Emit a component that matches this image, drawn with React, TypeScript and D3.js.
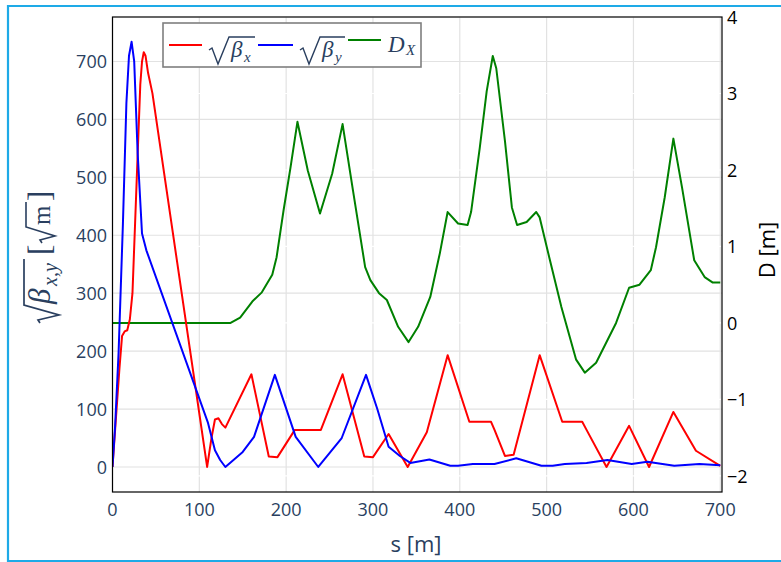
import React from "react";
import * as d3 from "d3";

// Beam optics along the lattice: sqrt(beta_x), sqrt(beta_y) on the left axis, D_x on the right.
const sBetaX = [0, 4, 8, 11, 14, 17, 20, 23, 26, 29, 32, 34, 36, 38, 41, 46, 109, 114, 118, 122, 126, 130, 160, 180, 190, 210, 240, 265, 290, 300, 318, 340, 362, 386, 411, 436, 440, 452, 462, 492, 518, 541, 546, 569, 595, 618, 646, 672, 700];
const betaX = [0, 85, 170, 226, 234, 236, 255, 300, 420, 541, 660, 700, 716, 710, 680, 645, 0, 50, 82, 84, 74, 68, 160, 18, 17, 64, 64, 160, 18, 17, 57, 0, 60, 193, 78, 78, 64, 19, 21, 193, 78, 78, 64, 0, 71, 0, 95, 28, 2];

const sBetaY = [0, 3, 7, 12, 16, 19, 22, 25, 29, 34, 39, 110, 118, 124, 130, 150, 163, 187, 211, 237, 264, 292, 305, 318, 331, 343, 365, 389, 398, 415, 440, 465, 494, 507, 521, 546, 570, 598, 616, 647, 676, 700];
const betaY = [0, 70, 197, 420, 628, 710, 734, 700, 541, 403, 374, 76, 29, 12, 0, 26, 52, 159, 52, 0, 50, 159, 100, 35, 19, 7, 13, 2, 2, 5, 5, 15, 2, 2, 5, 7, 12, 5, 9, 2, 5, 3];

const sDx = [0, 136, 147, 161, 172, 184, 189, 197, 205, 213, 225, 239, 253, 265, 277, 291, 297, 307, 316, 329, 341, 352, 366, 377, 386, 398, 409, 413, 423, 431, 438, 442, 452, 460, 466, 477, 488, 492, 503, 517, 534, 544, 557, 580, 595, 607, 620, 626, 636, 646, 656, 670, 682, 691, 700];
const dispX = [0, 0, 0.07, 0.28, 0.4, 0.63, 0.86, 1.47, 2.03, 2.63, 1.99, 1.43, 1.95, 2.6, 1.73, 0.73, 0.56, 0.39, 0.3, -0.05, -0.25, -0.05, 0.34, 0.91, 1.45, 1.3, 1.28, 1.45, 2.29, 3.03, 3.49, 3.33, 2.38, 1.51, 1.28, 1.32, 1.45, 1.38, 0.86, 0.21, -0.48, -0.65, -0.52, 0, 0.46, 0.5, 0.69, 0.99, 1.64, 2.41, 1.77, 0.82, 0.6, 0.53, 0.53];

const xTicks = [0, 100, 200, 300, 400, 500, 600, 700];
const yLeftTicks = [0, 100, 200, 300, 400, 500, 600, 700];
const yRightTicks = [-2, -1, 0, 1, 2, 3, 4];

const INK = "#2a3f5f";
const GRID = "#e2e2e2";
const SANS = "'Open Sans', 'DejaVu Sans', sans-serif";
const SERIF = "'Liberation Serif', 'DejaVu Serif', serif";

type Pt = [number, number];

// A radical sign with its vinculum: hook start, bottom vertex, top, bar end.
function Radical({ x0, y0, bottom, top, barEnd, w = 1.4 }: { x0: number; y0: number; bottom: Pt; top: Pt; barEnd: number; w?: number }) {
  const p = d3.path();
  p.moveTo(x0, y0);
  p.lineTo(x0 + 3, y0 - 2);
  p.lineTo(bottom[0], bottom[1]);
  p.lineTo(top[0], top[1]);
  p.lineTo(barEnd, top[1]);
  return <path d={p.toString()} fill="none" stroke={INK} strokeWidth={w} strokeLinejoin="miter" />;
}

export default function App() {
  const W = 781;
  const H = 562;
  const L = 112.5, R = 722, T = 17, B = 492;

  const x = d3.scaleLinear().domain([0, 702]).range([L, R]);
  const yL = d3.scaleLinear().domain([-43.2, 776.8]).range([B, T]);
  const yR = d3.scaleLinear().domain([-2.21, 4]).range([B, T]);

  const mk = (s: number[], v: number[], y: d3.ScaleLinear<number, number>) =>
    d3.line<[number, number]>().x((d) => x(d[0])).y((d) => y(d[1]))(s.map((si, i) => [si, v[i]] as [number, number])) || "";

  const pathBx = mk(sBetaX, betaX, yL);
  const pathBy = mk(sBetaY, betaY, yL);
  const pathD = mk(sDx, dispX, yR);

  const fmtR = (v: number) => (v < 0 ? "\u2212" + Math.abs(v) : String(v));

  return (
    <svg width={W} height={H} viewBox={`0 0 ${W} ${H}`} style={{ position: "absolute", left: 0, top: 0, background: "#fff" }}>
      <defs>
        <clipPath id="plotClip">
          <rect x={L} y={T} width={R - L} height={B - T} />
        </clipPath>
      </defs>
      <rect x={0} y={0} width={W} height={H} fill="#fff" />
      {/* outer frame */}
      <path d={`M${W + 5},6 H8 V561 H${W + 5}`} fill="none" stroke="#1eaae7" strokeWidth={2.2} />

      {/* vertical grid */}
      {xTicks.map((t) => (
        <line key={"gx" + t} x1={x(t)} x2={x(t)} y1={T} y2={B} stroke={GRID} strokeWidth={1.2} />
      ))}
      {/* secondary axis grid, white */}
      {yRightTicks.map((t) => (
        <line key={"gr" + t} x1={L} x2={R} y1={yR(t)} y2={yR(t)} stroke="#fff" strokeWidth={1.2} />
      ))}
      {/* horizontal grid */}
      {yLeftTicks.map((t) => (
        <line key={"gy" + t} x1={L} x2={R} y1={yL(t)} y2={yL(t)} stroke={GRID} strokeWidth={1.2} />
      ))}

      <g clipPath="url(#plotClip)" fill="none" strokeWidth={2} strokeLinejoin="round">
        <path d={pathD} stroke="green" />
        <path d={pathBx} stroke="red" />
        <path d={pathBy} stroke="blue" />
      </g>

      {/* plot frame */}
      <rect x={L} y={T} width={R - L} height={B - T} fill="none" stroke="#000" strokeWidth={1.2} />

      {/* x tick labels */}
      {xTicks.map((t) => (
        <text key={"tx" + t} x={x(t)} y={509} textAnchor="middle" dominantBaseline="central" fontFamily={SANS} fontSize={18} fill={INK}>
          {t}
        </text>
      ))}
      {/* left tick labels */}
      {yLeftTicks.map((t) => (
        <text key={"tl" + t} x={107} y={yL(t)} textAnchor="end" dominantBaseline="central" fontFamily={SANS} fontSize={18} fill={INK}>
          {t}
        </text>
      ))}
      {/* right tick labels */}
      {yRightTicks.map((t) => (
        <text key={"tr" + t} x={727} y={yR(t)} textAnchor="start" dominantBaseline="central" fontFamily={SANS} fontSize={18} fill="#000">
          {fmtR(t)}
        </text>
      ))}

      {/* axis titles */}
      <text x={416} y={543} textAnchor="middle" dominantBaseline="central" fontFamily={SANS} fontSize={22} fill={INK}>
        s [m]
      </text>
      <text transform="translate(775,250) rotate(-90)" textAnchor="middle" fontFamily={SANS} fontSize={22} fill="#000">
        D [m]
      </text>

      {/* left title: sqrt(beta_{x,y}) [sqrt(m)] */}
      <g transform="translate(50,323) rotate(-90)" fill={INK} fontFamily={SERIF}>
        <Radical x0={0} y0={-10} bottom={[8, 9]} top={[18, -26]} barEnd={64} w={1.7} />
        <text x={19} y={0} fontSize={31} fontStyle="italic">β</text>
        <text x={37} y={7} fontSize={20} fontStyle="italic">x,y</text>
        <text x={68} y={0} fontSize={31}>[</text>
        <Radical x0={80} y0={-8} bottom={[87, 5]} top={[96, -24]} barEnd={121} w={1.6} />
        <text x={98} y={0} fontSize={25}>m</text>
        <text x={122} y={0} fontSize={31}>]</text>
      </g>

      {/* legend */}
      <rect x={163} y={23} width={258} height={44} fill="#fff" stroke="#7f7f7f" strokeWidth={1.6} />
      <line x1={169} x2={202} y1={45} y2={45} stroke="red" strokeWidth={2} />
      <g fill={INK} fontFamily={SERIF}>
        <Radical x0={209} y0={50} bottom={[218, 64]} top={[229, 37]} barEnd={255} />
        <text x={231} y={57} fontSize={23} fontStyle="italic">β</text>
        <text x={244} y={62} fontSize={15} fontStyle="italic">x</text>
      </g>
      <line x1={258} x2={293} y1={45} y2={45} stroke="blue" strokeWidth={2} />
      <g fill={INK} fontFamily={SERIF}>
        <Radical x0={300} y0={50} bottom={[309, 64]} top={[320, 37]} barEnd={345} />
        <text x={322} y={57} fontSize={23} fontStyle="italic">β</text>
        <text x={335} y={62} fontSize={15} fontStyle="italic">y</text>
      </g>
      <line x1={348} x2={381} y1={40} y2={40} stroke="green" strokeWidth={2} />
      <g fill={INK} fontFamily={SERIF}>
        <text x={388} y={52} fontSize={23} fontStyle="italic">D</text>
        <text x={406} y={55} fontSize={15} fontStyle="italic">X</text>
      </g>
    </svg>
  );
}
